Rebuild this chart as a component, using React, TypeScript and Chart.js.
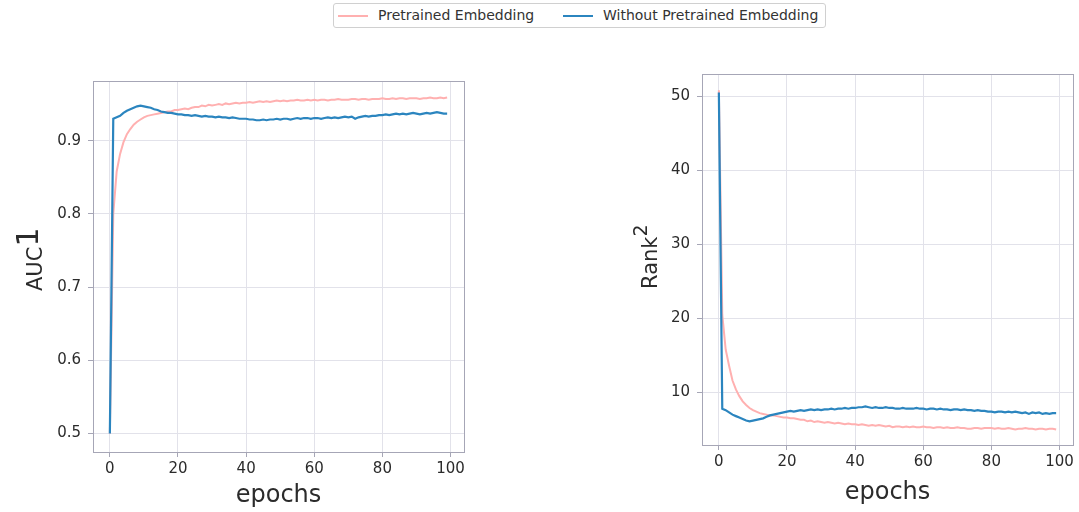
import React, { useEffect, useRef } from "react";
import { Chart, registerables } from "chart.js";

Chart.register(...registerables);

const SERIES_NAMES = ["Pretrained Embedding", "Without Pretrained Embedding"];
const PINK = "#ffb0b0";
const BLUE = "#2b85bf";
const GRID = "#e2e2ea";
const SPINE = "#a6a6b6";
const TEXT = "#2b2b2b";
const FONT = "'DejaVu Sans', sans-serif";

const X_TICKS = [0, 20, 40, 60, 80, 100];
const AUC_TICKS = [0.5, 0.6, 0.7, 0.8, 0.9];
const RANK_TICKS = [10, 20, 30, 40, 50];

const aucPretrained = [
  0.500, 0.800, 0.858, 0.882, 0.898, 0.909, 0.916, 0.922, 0.926, 0.929,
  0.932, 0.934, 0.935, 0.936, 0.937, 0.938, 0.939, 0.940, 0.940, 0.942,
  0.942, 0.943, 0.944, 0.943, 0.945, 0.946, 0.946, 0.948, 0.947, 0.949,
  0.948, 0.949, 0.950, 0.949, 0.951, 0.950, 0.951, 0.952, 0.951, 0.952,
  0.952, 0.953, 0.952, 0.953, 0.954, 0.953, 0.954, 0.953, 0.954, 0.955,
  0.954, 0.955, 0.954, 0.955, 0.955, 0.956, 0.955, 0.955, 0.956, 0.955,
  0.956, 0.955, 0.956, 0.956, 0.955, 0.956, 0.956, 0.957, 0.956, 0.956,
  0.956, 0.957, 0.957, 0.956, 0.957, 0.957, 0.956, 0.957, 0.957, 0.957,
  0.958, 0.957, 0.957, 0.958, 0.957, 0.958, 0.958, 0.957, 0.958, 0.958,
  0.958, 0.957, 0.958, 0.958, 0.959, 0.958, 0.958, 0.959, 0.958, 0.959,
];

const aucWithout = [
  0.500, 0.930, 0.932, 0.934, 0.938, 0.941, 0.943, 0.945, 0.947, 0.948,
  0.947, 0.946, 0.945, 0.943, 0.942, 0.940, 0.939, 0.938, 0.938, 0.937,
  0.936, 0.936, 0.935, 0.935, 0.934, 0.935, 0.934, 0.933, 0.934, 0.933,
  0.933, 0.932, 0.933, 0.932, 0.932, 0.931, 0.932, 0.931, 0.930, 0.930,
  0.930, 0.929, 0.929, 0.928, 0.928, 0.929, 0.928, 0.929, 0.929, 0.930,
  0.929, 0.930, 0.930, 0.929, 0.930, 0.931, 0.930, 0.931, 0.931, 0.930,
  0.931, 0.931, 0.930, 0.931, 0.932, 0.931, 0.932, 0.931, 0.932, 0.933,
  0.932, 0.933, 0.930, 0.932, 0.933, 0.934, 0.933, 0.934, 0.934, 0.935,
  0.935, 0.936, 0.935, 0.936, 0.937, 0.936, 0.937, 0.936, 0.937, 0.938,
  0.937, 0.936, 0.937, 0.938, 0.937, 0.938, 0.939, 0.938, 0.937, 0.937,
];

const rankPretrained = [
  50.8, 20.5, 15.8, 13.6, 11.6, 10.4, 9.5, 8.8, 8.3, 7.9,
  7.6, 7.4, 7.2, 7.1, 7.0, 6.9, 6.9, 6.8, 6.7, 6.6,
  6.6, 6.5, 6.5, 6.4, 6.3, 6.3, 6.1, 6.2, 6.0, 6.1,
  6.0, 5.9, 6.0, 5.9, 5.8, 5.9, 5.8, 5.7, 5.8, 5.7,
  5.7, 5.6, 5.7, 5.6, 5.5, 5.6, 5.5, 5.6, 5.5, 5.4,
  5.5, 5.3, 5.4, 5.4, 5.3, 5.4, 5.3, 5.4, 5.3, 5.3,
  5.4, 5.3, 5.3, 5.2, 5.3, 5.3, 5.2, 5.3, 5.2, 5.2,
  5.3, 5.2, 5.2, 5.1, 5.1, 5.2, 5.2, 5.1, 5.2, 5.2,
  5.2, 5.1, 5.2, 5.1, 5.1, 5.2, 5.1, 5.0, 5.1, 5.1,
  5.2, 5.1, 5.1, 5.0, 5.1, 5.1, 5.0, 5.1, 5.1, 5.0,
];

const rankWithout = [
  50.5, 7.8, 7.6, 7.3, 7.0, 6.8, 6.6, 6.4, 6.2, 6.1,
  6.2, 6.3, 6.4, 6.5, 6.7, 6.9, 7.0, 7.1, 7.2, 7.3,
  7.4, 7.5, 7.4, 7.5, 7.6, 7.5, 7.6, 7.7, 7.6, 7.7,
  7.6, 7.7, 7.7, 7.8, 7.7, 7.8, 7.8, 7.9, 7.8, 7.9,
  7.9, 8.0, 8.0, 8.1, 8.0, 7.9, 8.0, 7.9, 7.9, 8.0,
  7.9, 7.9, 7.8, 7.8, 7.9, 7.8, 7.8, 7.8, 7.9, 7.8,
  7.8, 7.7, 7.8, 7.8, 7.7, 7.8, 7.7, 7.7, 7.6, 7.7,
  7.7, 7.6, 7.7, 7.6, 7.6, 7.5, 7.6, 7.5, 7.5, 7.4,
  7.4, 7.3, 7.4, 7.4, 7.3, 7.4, 7.3, 7.4, 7.3, 7.2,
  7.3, 7.1, 7.3, 7.2, 7.3, 7.1, 7.2, 7.1, 7.2, 7.2,
];

const X_MIN = -4.95;
const X_MAX = 103.95;

const framePlugin = {
  id: "frameTitles",
  afterDraw(chart: any, _args: any, opts: any) {
    const { ctx, chartArea: a } = chart;
    ctx.save();
    ctx.strokeStyle = SPINE;
    ctx.lineWidth = 1;
    ctx.strokeRect(Math.round(a.left) + 0.5, Math.round(a.top) + 0.5, Math.round(a.right - a.left), Math.round(a.bottom - a.top));
    ctx.fillStyle = TEXT;
    ctx.font = `${opts.xSize}px ${FONT}`;
    ctx.textAlign = "center";
    ctx.textBaseline = "alphabetic";
    ctx.fillText(opts.xTitle, (a.left + a.right) / 2, opts.xBaseline);
    ctx.translate(opts.yBaselineX, opts.yStartY);
    ctx.rotate(-Math.PI / 2);
    ctx.textAlign = "left";
    ctx.font = `${opts.ySize}px ${FONT}`;
    ctx.fillText(opts.yTitle, 0, 0);
    const w = ctx.measureText(opts.yTitle).width;
    ctx.font = `${opts.supSize}px ${FONT}`;
    ctx.fillText(opts.ySup, w + opts.supGap, -opts.supRaise);
    ctx.restore();
  },
};

type Spec = {
  pink: number[];
  blue: number[];
  yMin: number;
  yMax: number;
  yTicks: number[];
  yFmt: (v: number) => string;
  width: number;
  height: number;
  area: { left: number; top: number; right: number; bottom: number };
  titles: any;
};

function makeConfig(s: Spec): any {
  const toPts = (arr: number[]) => arr.map((v, i) => ({ x: i, y: v }));
  return {
    type: "line",
    data: {
      datasets: [
        { label: SERIES_NAMES[1], data: toPts(s.blue), borderColor: BLUE, borderWidth: 2.2, pointRadius: 0, fill: false, tension: 0 },
        { label: SERIES_NAMES[0], data: toPts(s.pink), borderColor: PINK, borderWidth: 2, pointRadius: 0, fill: false, tension: 0 },
      ],
    },
    options: {
      animation: false,
      responsive: false,
      events: [],
      layout: { padding: { left: 0, top: s.area.top, right: s.width - s.area.right, bottom: 0 } },
      plugins: { legend: { display: false }, tooltip: { enabled: false }, frameTitles: s.titles },
      scales: {
        x: {
          type: "linear",
          min: X_MIN,
          max: X_MAX,
          afterBuildTicks: (sc: any) => { sc.ticks = X_TICKS.map((v) => ({ value: v })); },
          afterFit: (sc: any) => { sc.height = s.height - s.area.bottom; },
          grid: { color: GRID, tickColor: SPINE, tickLength: 5, lineWidth: 1 },
          border: { display: false },
          ticks: { font: { family: FONT, size: 15 }, color: TEXT, padding: 3, maxRotation: 0, autoSkip: false, callback: (v: number) => String(v) },
        },
        y: {
          type: "linear",
          min: s.yMin,
          max: s.yMax,
          afterBuildTicks: (sc: any) => { sc.ticks = s.yTicks.map((v) => ({ value: v })); },
          afterFit: (sc: any) => { sc.width = s.area.left; },
          grid: { color: GRID, tickColor: SPINE, tickLength: 5, lineWidth: 1 },
          border: { display: false },
          ticks: { font: { family: FONT, size: 15 }, color: TEXT, padding: 7, autoSkip: false, callback: (v: number) => s.yFmt(v) },
        },
      },
    },
    plugins: [framePlugin],
  };
}

function ChartCanvas({ spec, left }: { spec: Spec; left: number }) {
  const ref = useRef<HTMLCanvasElement>(null);
  useEffect(() => {
    if (!ref.current) return;
    const chart = new Chart(ref.current, makeConfig(spec));
    return () => chart.destroy();
  }, []);
  return (
    <canvas
      ref={ref}
      width={spec.width}
      height={spec.height}
      style={{ position: "absolute", left, top: 0, width: spec.width, height: spec.height }}
    />
  );
}

const leftSpec: Spec = {
  pink: aucPretrained,
  blue: aucWithout,
  yMin: 0.4748,
  yMax: 0.9816,
  yTicks: AUC_TICKS,
  yFmt: (v) => v.toFixed(1),
  width: 560,
  height: 512,
  area: { left: 93, top: 81, right: 464, bottom: 452 },
  titles: { xTitle: "epochs", xSize: 24, xBaseline: 502, yTitle: "AUC", ySup: "1", ySize: 21, supSize: 30, supGap: 0, supRaise: 4, yBaselineX: 42, yStartY: 291 },
};

const rightSpec: Spec = {
  pink: rankPretrained,
  blue: rankWithout,
  yMin: 2.9,
  yMax: 53.0,
  yTicks: RANK_TICKS,
  yFmt: (v) => String(v),
  width: 519,
  height: 512,
  area: { left: 142, top: 74, right: 513, bottom: 445 },
  titles: { xTitle: "epochs", xSize: 24, xBaseline: 499, yTitle: "Rank", ySup: "2", ySize: 21, supSize: 19, supGap: 0, supRaise: 10, yBaselineX: 97, yStartY: 289 },
};

function Legend() {
  const item = (color: string, lineLeft: number, textLeft: number, text: string) => (
    <>
      <div style={{ position: "absolute", left: lineLeft, top: 11, width: 30, height: 2, background: color }} />
      <div style={{ position: "absolute", left: textLeft, top: 3, fontFamily: FONT, fontSize: 14, lineHeight: "17px", color: "#333", whiteSpace: "nowrap" }}>{text}</div>
    </>
  );
  return (
    <div style={{ position: "absolute", left: 333, top: 3, width: 491, height: 23, border: "1px solid #d0d0d0", borderRadius: 3, background: "#fff" }}>
      {item(PINK, 4, 44, SERIES_NAMES[0])}
      {item(BLUE, 229, 269, SERIES_NAMES[1])}
    </div>
  );
}

export default function App() {
  return (
    <div style={{ position: "absolute", left: 0, top: 0, width: 1079, height: 512, background: "#fff", overflow: "hidden" }}>
      <ChartCanvas spec={leftSpec} left={0} />
      <ChartCanvas spec={rightSpec} left={560} />
      <Legend />
    </div>
  );
}
